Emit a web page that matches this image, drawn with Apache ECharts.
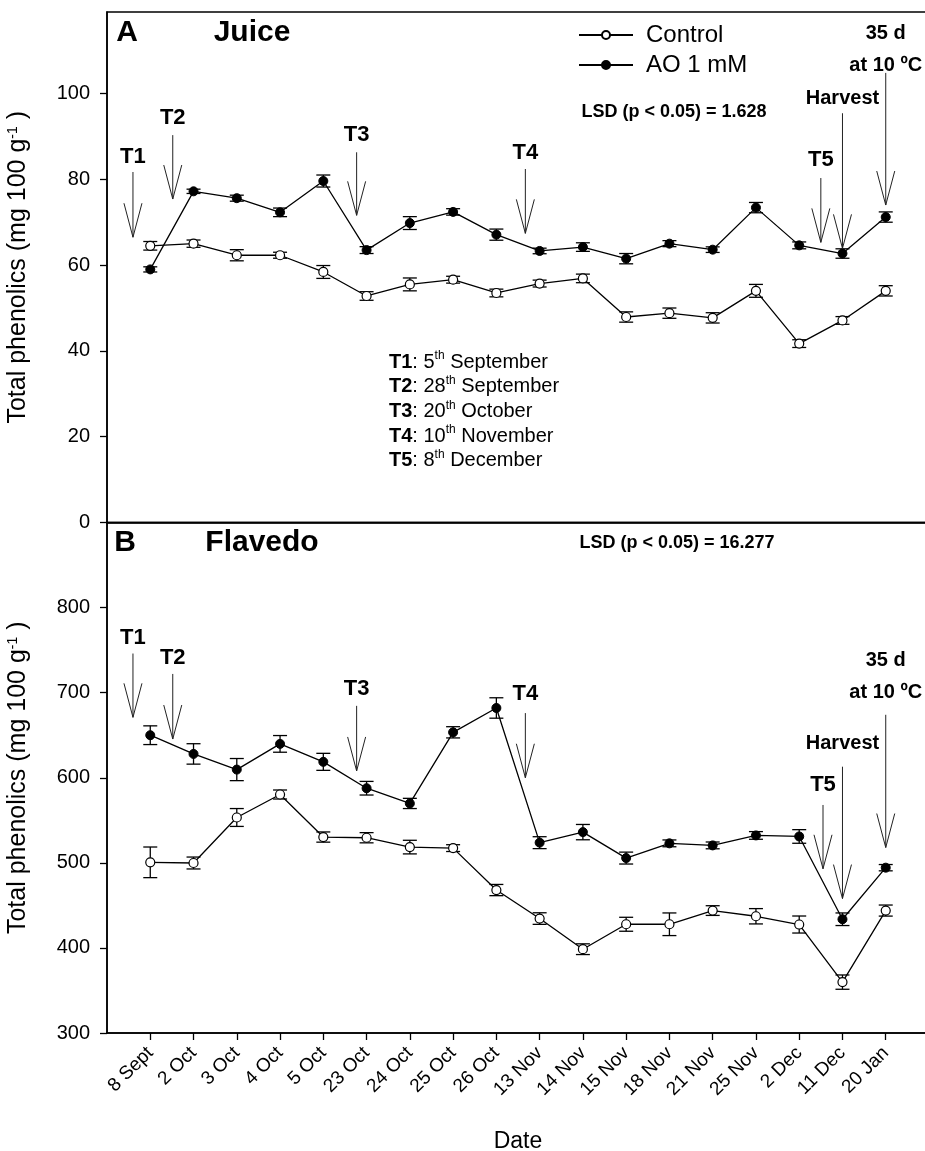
<!DOCTYPE html>
<html><head><meta charset="utf-8">
<script src="https://cdn.jsdelivr.net/npm/echarts@6/dist/echarts.min.js"></script>
<style>html,body{margin:0;padding:0;background:#fff}#c{width:925px;height:1151px}</style>
</head><body><div id="c"></div>
<script>
// ---------- data ----------
const categories = ['8 Sept','2 Oct','3 Oct','4 Oct','5 Oct','23 Oct','24 Oct','25 Oct','26 Oct','13 Nov','14 Nov','15 Nov','18 Nov','21 Nov','25 Nov','2 Dec','11 Dec','20 Jan'];

const juiceControl    = [64.5, 65.0, 62.3, 62.3, 58.4, 52.8, 55.5, 56.6, 53.5, 55.7, 56.9, 47.9, 48.8, 47.7, 54.0, 41.7, 47.1, 54.0];
const juiceControlErr = [1.0, 0.85, 1.3, 0.7, 1.5, 1.0, 1.5, 0.8, 0.9, 0.8, 1.0, 1.2, 1.2, 1.2, 1.5, 0.9, 0.9, 1.2];
const juiceAO         = [59.0, 77.2, 75.6, 72.3, 79.6, 63.5, 69.8, 72.4, 67.1, 63.3, 64.2, 61.5, 65.0, 63.6, 73.4, 64.6, 62.7, 71.2];
const juiceAOErr      = [0.6, 0.5, 0.7, 1.0, 1.4, 0.8, 1.5, 0.75, 1.3, 0.65, 1.0, 1.2, 0.7, 0.65, 1.2, 0.8, 1.1, 1.2];

const flavedoControl    = [500.6, 499.8, 553.3, 580.3, 530.3, 529.5, 518.5, 517.3, 468.0, 434.5, 398.5, 427.8, 427.8, 443.9, 437.2, 427.5, 359.8, 443.9];
const flavedoControlErr = [18, 7, 10.5, 5.3, 6, 6, 8, 4, 6.6, 6.8, 6.3, 8.2, 13.3, 5.7, 9, 10, 8.4, 6.5];
const flavedoAO         = [650.0, 628.0, 609.6, 639.8, 618.7, 587.7, 569.8, 653.4, 682.0, 523.7, 536.1, 505.6, 522.9, 520.5, 532.2, 531.0, 433.7, 494.3];
const flavedoAOErr      = [11, 12, 13, 9.8, 10, 8, 6, 6.6, 12, 7, 9, 7, 4, 4, 4.5, 8, 7.4, 3.7];

const juiceTicks   = [0, 20, 40, 60, 80, 100];
const flavedoTicks = [300, 400, 500, 600, 700, 800];

// annotation arrows (x in category index units, y in data units)
const annoLabels   = ['T1', 'T2', 'T3', 'T4', 'T5', 'Harvest', '35 d\nat 10 ºC'];
const annoBig      = [true, true, true, true, true, false, false];
const juiceAnnoX   = [-0.4, 0.52, 4.77, 8.67, 15.5, 16, 17];
const juiceAnnoTxt = [85.3, 94.3, 90.3, 86.1, 84.5, 98.9, 110.3];
const juiceAnnoTop = [81.7, 90.3, 86.3, 82.4, 80.3, 95.4, 104.8];
const juiceAnnoTip = [66.5, 75.4, 71.6, 67.4, 65.3, 63.9, 74.0];
const flavAnnoX    = [-0.4, 0.52, 4.77, 8.67, 15.55, 16, 17];
const flavAnnoTxt  = [764.7, 741, 704, 699, 591, 640, 719];
const flavAnnoTop  = [746, 722, 684.5, 676, 568, 613, 674];
const flavAnnoTip  = [671, 645.5, 608, 600, 493, 458, 518];

const tDefs = [['T1','5','th',' September'],['T2','28','th',' September'],['T3','20','th',' October'],['T4','10','th',' November'],['T5','8','th',' December']];

// ---------- helpers ----------
const FONT = "'Liberation Sans', Arial, Helvetica, sans-serif";
const padCats = [' '].concat(categories, ['  ']);
const toPts = v => v.map((y, i) => [i + 1, y]);
const toErr = (v, e) => v.map((y, i) => [i + 1, y - e[i], y + e[i]]);
const toAnno = (xs, txt, top, tip) => xs.map((x, i) => {
  const p = x + 1, b = Math.floor(p);
  return [b, tip[i], p - b, top[i], txt[i]];
});

function renderErr(params, api) {
  const x = api.value(0);
  const p1 = api.coord([x, api.value(1)]);
  const p2 = api.coord([x, api.value(2)]);
  const w = 7, st = { stroke: '#000', lineWidth: 1.3 };
  return { type: 'group', children: [
    { type: 'line', shape: { x1: p1[0], y1: p1[1], x2: p2[0], y2: p2[1] }, style: st },
    { type: 'line', shape: { x1: p1[0] - w, y1: p1[1], x2: p1[0] + w, y2: p1[1] }, style: st },
    { type: 'line', shape: { x1: p2[0] - w, y1: p2[1], x2: p2[0] + w, y2: p2[1] }, style: st }
  ]};
}
function renderAnno(params, api) {
  const i = params.dataIndex;
  const b = api.value(0), tip = api.value(1), frac = api.value(2), top = api.value(3), txt = api.value(4);
  const bw = api.size([1, 0])[0];
  const pTip = api.coord([b, tip]);
  const x = pTip[0] + frac * bw;
  const yTip = pTip[1];
  const yTop = api.coord([b, top])[1];
  const yTxt = api.coord([b, txt])[1];
  const st = { stroke: '#222', lineWidth: 1, fill: null };
  const big = annoBig[i];
  return { type: 'group', children: [
    { type: 'line', shape: { x1: x, y1: yTop, x2: x, y2: yTip }, style: st },
    { type: 'polyline', shape: { points: [[x - 9, yTip - 34], [x, yTip], [x + 9, yTip - 34]] }, style: st },
    { type: 'text', x: x, y: yTxt, style: { text: annoLabels[i], fill: '#000', font: 'bold ' + (big ? 22 : 20) + 'px ' + FONT, align: 'center', verticalAlign: 'middle', lineHeight: 32 } }
  ]};
}

const axisBlack = { lineStyle: { color: '#000', width: 1.5 } };
const yName = '{a|Total phenolics (mg 100 g}{s|-1}{a| )}';
const yNameStyle = { color: '#000', fontFamily: FONT, fontSize: 25,
  rich: { a: { fontSize: 25, fontFamily: FONT, color: '#000' }, s: { fontSize: 14, fontFamily: FONT, color: '#000', verticalAlign: 'top', lineHeight: 14 } } };
const edgeFn = (i) => i > 0 && i < padCats.length - 1;

const lineCommon = { type: 'line', symbol: 'circle', symbolSize: 9, z: 4, animation: false,
  lineStyle: { color: '#000', width: 1.3 }, emphasis: { disabled: true } };
const ctrlItem = { color: '#fff', borderColor: '#000', borderWidth: 1.2 };
const aoItem = { color: '#000', borderColor: '#000', borderWidth: 1 };

const chart = echarts.init(document.getElementById('c'), null, { renderer: 'canvas' });

const defLines = tDefs.map(d => '{b|' + d[0] + '}{n|: ' + d[1] + '}{s|' + d[2] + '}{n|' + d[3] + '}').join('\n');

chart.setOption({
  backgroundColor: '#fff',
  animation: false,
  textStyle: { fontFamily: FONT },
  grid: [
    { left: 107, top: 12, right: -4, height: 510.5, show: true, borderColor: '#000', borderWidth: 1.5, backgroundColor: 'transparent', outerBoundsMode: 'none' },
    { left: 107, top: 522.5, right: -4, height: 510.5, show: true, borderColor: '#000', borderWidth: 1.5, backgroundColor: 'transparent', outerBoundsMode: 'none' }
  ],
  legend: {
    data: ['Control', 'AO 1 mM'], orient: 'vertical', left: 578, top: 23, padding: 0,
    itemWidth: 54, itemHeight: 10, itemGap: 6,
    textStyle: { fontSize: 24, color: '#000', fontFamily: FONT, padding: [0, 0, 0, 8] },
    selectedMode: false
  },
  xAxis: [
    { gridIndex: 0, type: 'category', data: padCats, boundaryGap: false, axisLine: axisBlack,
      axisTick: { show: false }, axisLabel: { show: false }, splitLine: { show: false } },
    { gridIndex: 1, type: 'category', data: padCats, boundaryGap: false, axisLine: axisBlack,
      axisTick: { show: true, length: 7, interval: edgeFn, lineStyle: { color: '#000', width: 1.3 } },
      axisLabel: { interval: edgeFn, rotate: 45, fontSize: 19, color: '#000', margin: 17, fontFamily: FONT },
      splitLine: { show: false },
      name: 'Date', nameLocation: 'middle', nameGap: 97,
      nameTextStyle: { fontSize: 23, color: '#000', fontFamily: FONT } }
  ],
  yAxis: [
    { gridIndex: 0, type: 'value', min: 0, max: 119, interval: 20,
      axisLine: { show: true, lineStyle: { color: '#000', width: 1.5 } },
      axisTick: { show: true, length: 7, customValues: juiceTicks, lineStyle: { color: '#000', width: 1.3 } },
      axisLabel: { customValues: juiceTicks, fontSize: 20, color: '#000', margin: 17, fontFamily: FONT },
      splitLine: { show: false },
      name: yName, nameLocation: 'middle', nameRotate: 90, nameGap: 76, nameTextStyle: yNameStyle },
    { gridIndex: 1, type: 'value', min: 300, max: 900, interval: 100,
      axisLine: { show: true, lineStyle: { color: '#000', width: 1.5 } },
      axisTick: { show: true, length: 7, customValues: flavedoTicks, lineStyle: { color: '#000', width: 1.3 } },
      axisLabel: { customValues: flavedoTicks, fontSize: 20, color: '#000', margin: 17, fontFamily: FONT },
      splitLine: { show: false },
      name: yName, nameLocation: 'middle', nameRotate: 90, nameGap: 76, nameTextStyle: yNameStyle }
  ],
  series: [
    { type: 'custom', xAxisIndex: 0, yAxisIndex: 0, z: 2, silent: true, renderItem: renderErr, data: toErr(juiceControl, juiceControlErr), encode: { x: 0, y: [1, 2] } },
    { type: 'custom', xAxisIndex: 0, yAxisIndex: 0, z: 2, silent: true, renderItem: renderErr, data: toErr(juiceAO, juiceAOErr), encode: { x: 0, y: [1, 2] } },
    { type: 'custom', xAxisIndex: 1, yAxisIndex: 1, z: 2, silent: true, renderItem: renderErr, data: toErr(flavedoControl, flavedoControlErr), encode: { x: 0, y: [1, 2] } },
    { type: 'custom', xAxisIndex: 1, yAxisIndex: 1, z: 2, silent: true, renderItem: renderErr, data: toErr(flavedoAO, flavedoAOErr), encode: { x: 0, y: [1, 2] } },
    Object.assign({}, lineCommon, { name: 'Control', xAxisIndex: 0, yAxisIndex: 0, data: toPts(juiceControl), itemStyle: ctrlItem }),
    Object.assign({}, lineCommon, { name: 'AO 1 mM', xAxisIndex: 0, yAxisIndex: 0, data: toPts(juiceAO), itemStyle: aoItem }),
    Object.assign({}, lineCommon, { name: 'Control', xAxisIndex: 1, yAxisIndex: 1, data: toPts(flavedoControl), itemStyle: ctrlItem }),
    Object.assign({}, lineCommon, { name: 'AO 1 mM', xAxisIndex: 1, yAxisIndex: 1, data: toPts(flavedoAO), itemStyle: aoItem }),
    { type: 'custom', xAxisIndex: 0, yAxisIndex: 0, z: 5, silent: true, renderItem: renderAnno,
      data: toAnno(juiceAnnoX, juiceAnnoTxt, juiceAnnoTop, juiceAnnoTip), encode: { x: 0, y: 1 } },
    { type: 'custom', xAxisIndex: 1, yAxisIndex: 1, z: 5, silent: true, renderItem: renderAnno,
      data: toAnno(flavAnnoX, flavAnnoTxt, flavAnnoTop, flavAnnoTip), encode: { x: 0, y: 1 } }
  ],
  graphic: [
    { type: 'text', x: 127, y: 33, style: { text: 'A', font: 'bold 30px ' + FONT, fill: '#000', align: 'center', verticalAlign: 'middle' } },
    { type: 'text', x: 252, y: 33, style: { text: 'Juice', font: 'bold 30px ' + FONT, fill: '#000', align: 'center', verticalAlign: 'middle' } },
    { type: 'text', x: 125, y: 543, style: { text: 'B', font: 'bold 30px ' + FONT, fill: '#000', align: 'center', verticalAlign: 'middle' } },
    { type: 'text', x: 262, y: 543, style: { text: 'Flavedo', font: 'bold 30px ' + FONT, fill: '#000', align: 'center', verticalAlign: 'middle' } },
    { type: 'text', x: 674, y: 112, style: { text: 'LSD (p < 0.05) = 1.628', font: 'bold 18px ' + FONT, fill: '#000', align: 'center', verticalAlign: 'middle' } },
    { type: 'text', x: 677, y: 543, style: { text: 'LSD (p < 0.05) = 16.277', font: 'bold 18px ' + FONT, fill: '#000', align: 'center', verticalAlign: 'middle' } },
    { type: 'text', x: 389, y: 350, style: { text: defLines, fill: '#000',
        rich: {
          b: { fontFamily: FONT, fontSize: 20, fontWeight: 'bold', lineHeight: 24.6, fill: '#000' },
          n: { fontFamily: FONT, fontSize: 20, lineHeight: 24.6, fill: '#000' },
          s: { fontFamily: FONT, fontSize: 12, lineHeight: 14, verticalAlign: 'top', fill: '#000' }
        } } }
  ]
});
</script></body></html>
